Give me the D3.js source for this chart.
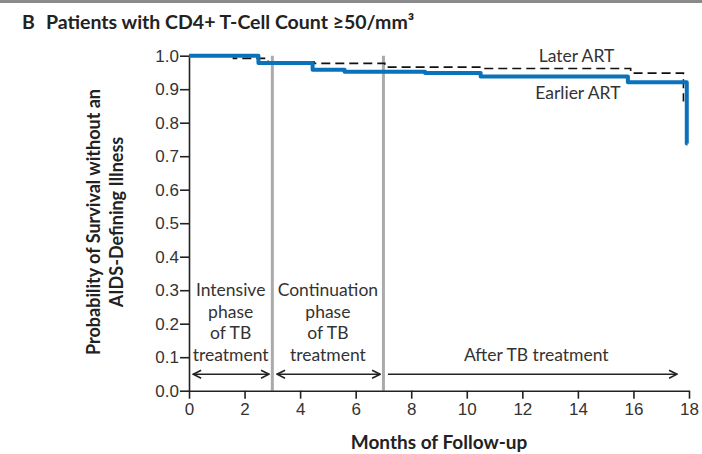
<!DOCTYPE html>
<html lang="en">
<head>
<meta charset="UTF-8">
<title>Patients with CD4+ T-Cell Count ≥50/mm³</title>
<script src="https://d3js.org/d3.v7.min.js"></script>
<style>
    body, html { margin: 0; padding: 0; background: #fff; }
    svg { display: block; font-family: Lato, "Open Sans", sans-serif; }
    .tick text { font-size: 17px; fill: #333; }
    .tick line, .domain { stroke: #222; stroke-width: 1.6px; }
    .note { font-size: 17.5px; fill: #333; }
    .bold { font-weight: bold; fill: #222; }
</style>
</head>
<body>
<div id="chart"></div>
<script>
// Kaplan-Meier steps (months, probability)
const earlierMonths = [0, 2.5, 4.45, 5.6, 8.5, 10.5, 15.8, 17.92, 17.95];
const earlierValues = [1.0, 0.978, 0.958, 0.952, 0.948, 0.938, 0.921, 0.738, 0.738];
const laterMonths = [0, 1.6, 2.85, 4.5, 7.05, 10.6, 15.9, 17.8];
const laterValues = [1.0, 0.992, 0.982, 0.977, 0.966, 0.962, 0.948, 0.863];

const xTicks = [0, 2, 4, 6, 8, 10, 12, 14, 16, 18];
const yTicks = [0, 0.1, 0.2, 0.3, 0.4, 0.5, 0.6, 0.7, 0.8, 0.9, 1.0];

const phaseBounds = [3, 7];                 // grey separators, months
const phaseLabels = [
    ["Intensive", "phase", "of TB", "treatment"],
    ["Continuation", "phase", "of TB", "treatment"],
    ["After TB treatment"]
];
const phaseArrows = [[0.15, 2.88, true], [3.17, 6.88, true], [7.16, 17.57, false]];

const width = 702, height = 454;
const margin = { top: 55.7, right: 13, bottom: 63.3, left: 189 };

const svg = d3.select("#chart").append("svg")
    .attr("width", width)
    .attr("height", height);

// thin rule across the top
svg.append("rect").attr("x", 0).attr("y", 0).attr("width", width).attr("height", 3).attr("fill", "#8a8a8a");

svg.append("text").attr("class", "bold").attr("x", 22).attr("y", 29)
    .style("font-size", "19.5px").text("B");
svg.append("text").attr("class", "bold").attr("x", 46).attr("y", 29)
    .style("font-size", "19.5px").text("Patients with CD4+ T-Cell Count ≥50/mm³");

const x = d3.scaleLinear().domain([0, 18]).range([margin.left, width - margin.right]);
const y = d3.scaleLinear().domain([0, 1]).range([height - margin.bottom, margin.top]);

// defs: arrowheads
const defs = svg.append("defs");
defs.append("marker").attr("id", "head").attr("viewBox", "0 0 10 10")
    .attr("refX", 9).attr("refY", 5).attr("markerWidth", 10).attr("markerHeight", 10)
    .attr("markerUnits", "userSpaceOnUse").attr("orient", "auto-start-reverse")
    .append("path").attr("d", "M1,1 L9,5 L1,9").attr("fill", "none")
    .attr("stroke", "#222").attr("stroke-width", 1.6);

// grey phase separators
svg.selectAll(".sep").data(phaseBounds).enter().append("line")
    .attr("x1", d => x(d)).attr("x2", d => x(d))
    .attr("y1", y(1)).attr("y2", y(0))
    .attr("stroke", "#aaa").attr("stroke-width", 3);

// axes
svg.append("g").attr("transform", `translate(${margin.left},0)`)
    .call(d3.axisLeft(y).tickValues(yTicks).tickFormat(d3.format(".1f"))
        .tickSize(9).tickSizeOuter(0).tickPadding(1));
const xAxis = svg.append("g").attr("transform", `translate(0,${y(0)})`)
    .call(d3.axisBottom(x).tickValues(xTicks).tickSize(8).tickSizeOuter(0).tickPadding(3));
xAxis.selectAll(".tick text").attr("dy", "0.78em");

// phase notes
const lineGap = 21.5;
const phaseCenters = [(0 + 3) / 2, (3 + 7) / 2, 12.5];
phaseLabels.forEach((lines, i) => {
    const t = svg.append("text").attr("class", "note").attr("text-anchor", "middle");
    const y0 = y(0) - 30 - (lines.length - 1) * lineGap;
    lines.forEach((s, j) => {
        t.append("tspan").attr("x", x(phaseCenters[i])).attr("y", y0 + j * lineGap).text(s);
    });
});

svg.selectAll(".arrow").data(phaseArrows).enter().append("line")
    .attr("x1", d => x(d[0])).attr("x2", d => x(d[1]))
    .attr("y1", y(0) - 16.5).attr("y2", y(0) - 16.5)
    .attr("stroke", "#222").attr("stroke-width", 1.6)
    .attr("marker-end", "url(#head)")
    .attr("marker-start", d => d[2] ? "url(#head)" : null);

// curves
const line = d3.line().curve(d3.curveStepAfter).x(d => x(d[0])).y(d => y(d[1]));
svg.append("path").datum(d3.zip(laterMonths, laterValues))
    .attr("d", line).attr("fill", "none")
    .attr("stroke", "#111").attr("stroke-width", 1.6).attr("stroke-dasharray", "9,5");
svg.append("path").datum(d3.zip(earlierMonths, earlierValues))
    .attr("d", line).attr("fill", "none")
    .attr("stroke", "#0a72bb").attr("stroke-width", 4).attr("stroke-linejoin", "round");

svg.append("text").attr("class", "note").attr("text-anchor", "middle")
    .attr("x", x(13.95)).attr("y", y(0.98)).text("Later ART");
svg.append("text").attr("class", "note").attr("text-anchor", "middle")
    .attr("x", x(14.0)).attr("y", y(0.872)).text("Earlier ART");

// axis titles
svg.append("text").attr("class", "bold").attr("text-anchor", "middle")
    .style("font-size", "19px")
    .attr("x", x(9)).attr("y", 449).text("Months of Follow-up");
const yt = svg.append("text").attr("class", "bold").attr("text-anchor", "middle")
    .style("font-size", "18px")
    .attr("transform", "translate(100,222) rotate(-90)");
yt.append("tspan").attr("x", 0).attr("y", 0).text("Probability of Survival without an");
yt.append("tspan").attr("x", 0).attr("y", 23).text("AIDS-Defining Illness");
</script>
</body>
</html>
